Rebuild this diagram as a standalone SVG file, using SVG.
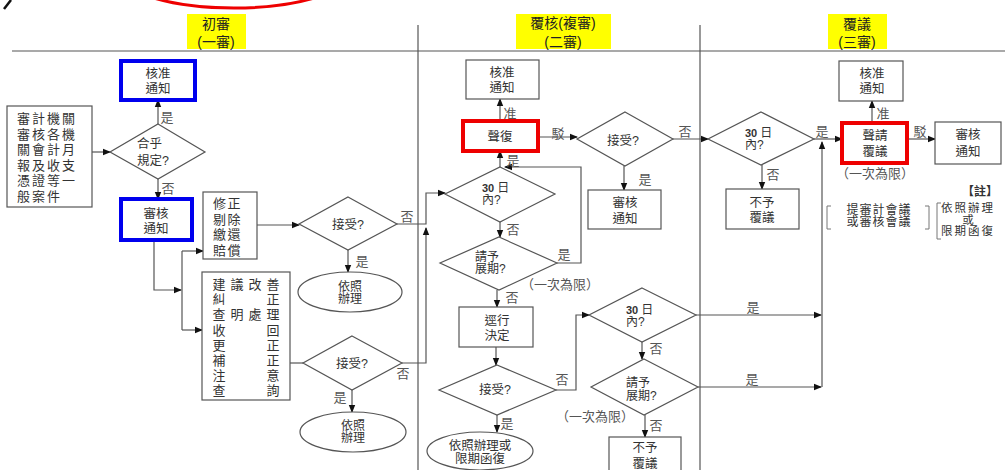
<svg xmlns="http://www.w3.org/2000/svg" width="1005" height="470" viewBox="0 0 1005 470">
<style>
text{font-family:"Liberation Sans","Noto Sans CJK TC","Noto Sans CJK SC",sans-serif;fill:#333;font-size:12.5px}
.m{text-anchor:middle}
.h{font-size:14px;fill:#222}
.lb{fill:#555;font-size:13px}
.sm{font-size:11px}
.ch{font-size:13px;text-anchor:middle}
.box{fill:#fff;stroke:#555;stroke-width:1.2}
.blue{fill:#fff;stroke:#0000ee;stroke-width:4}
.red{fill:#fff;stroke:#ee0000;stroke-width:4}
.c{fill:none;stroke:#555;stroke-width:1.2}
.a{marker-end:url(#ar)}
.div{stroke:#555;stroke-width:1.2;fill:none}
.br{fill:none;stroke:#777;stroke-width:1}
.num{font-weight:bold;font-size:11px}
.ri{font-weight:normal;font-size:12px}
.src{letter-spacing:2px;font-size:13px}
</style>
<defs>
<marker id="ar" markerWidth="8" markerHeight="8" refX="7" refY="4" orient="auto" markerUnits="userSpaceOnUse">
<path d="M0,0.8 L8,4 L0,7.2 Z" fill="#111"/>
</marker>
</defs>
<rect width="1005" height="470" fill="#fff"/>
<g id="decor">
<ellipse cx="234" cy="-28" rx="116" ry="36" fill="none" stroke="#ee0000" stroke-width="3"/>
<path d="M11,0 L4,9" stroke="#111" stroke-width="2.5" fill="none"/>
</g>
<g id="frame">
<line class="div" x1="12" y1="51" x2="1005" y2="51"/>
<line class="div" x1="418" y1="25" x2="418" y2="470"/>
<line class="div" x1="700" y1="25" x2="700" y2="470"/>
</g>
<g id="headers">
<rect x="187" y="14" width="59" height="35" fill="#ffff00"/>
<text class="h m" x="216" y="29">初審</text>
<text class="h m" x="216" y="47">(一審)</text>
<rect x="516" y="14" width="95" height="35" fill="#ffff00"/>
<text class="h m" x="563" y="28">覆核(複審)</text>
<text class="h m" x="563" y="47">(二審)</text>
<rect x="828" y="14" width="59" height="35" fill="#ffff00"/>
<text class="h m" x="857" y="29">覆議</text>
<text class="h m" x="857" y="47">(三審)</text>
</g>
<g id="connectors">
<path class="c a" d="M92,152 H110"/>
<path class="c a" d="M158,124 V100"/>
<path class="c a" d="M158,179 V199"/>
<path class="c a" d="M154,240 V290 H181"/>
<path class="c" d="M182,251 V330"/>
<path class="c a" d="M182,251 H203"/>
<path class="c a" d="M182,330 H202"/>
<path class="c a" d="M257,225 H299"/>
<path class="c a" d="M348,250 V272"/>
<path class="c a" d="M397,224 H426 V193 H445"/>
<path class="c" d="M290,363 H303"/>
<path class="c a" d="M402,363 H426 V228"/>
<path class="c a" d="M352,390 V412"/>
<path class="c a" d="M500,121 V99"/>
<path class="c a" d="M538,137 H577"/>
<path class="c a" d="M624,166 V190"/>
<path class="c a" d="M673,139 H708"/>
<path class="c a" d="M500,167 V151"/>
<path class="c a" d="M500,222 V237"/>
<path class="c a" d="M557,263 H581 V167 H505"/>
<path class="c a" d="M497,290 V307"/>
<path class="c a" d="M496,347 V365"/>
<path class="c a" d="M556,390 H576 V315 H589"/>
<path class="c a" d="M497,415 V432"/>
<path class="c a" d="M696,315 H821"/>
<path class="c a" d="M642,342 V359"/>
<path class="c a" d="M698,387 H821"/>
<path class="c a" d="M645,415 V437"/>
<path class="c a" d="M822,387 V142"/>
<path class="c a" d="M814,139 H842"/>
<path class="c a" d="M762,165 V189"/>
<path class="c a" d="M872,123 V101"/>
<path class="c a" d="M907,139 H935"/>
</g>
<g id="labels">
<text class="lb m" x="167" y="122">是</text>
<text class="lb m" x="168" y="193">否</text>
<text class="lb m" x="407" y="221">否</text>
<text class="lb m" x="362" y="266">是</text>
<text class="lb m" x="403" y="378">否</text>
<text class="lb m" x="340" y="402">是</text>
<text class="lb m" x="510" y="118">准</text>
<text class="lb m" x="558" y="138">駁</text>
<text class="lb m" x="685" y="136">否</text>
<text class="lb m" x="645" y="184">是</text>
<text class="lb m" x="513" y="165">是</text>
<text class="lb m" x="513" y="234">否</text>
<text class="lb m" x="564" y="259">是</text>
<text class="lb" x="521" y="289">（一次為限）</text>
<text class="lb m" x="512" y="302">否</text>
<text class="lb m" x="562" y="384">否</text>
<text class="lb m" x="507" y="428">是</text>
<text class="lb m" x="753" y="312">是</text>
<text class="lb m" x="656" y="353">否</text>
<text class="lb m" x="752" y="384">是</text>
<text class="lb" x="556" y="421">（一次為限）</text>
<text class="lb m" x="656" y="430">否</text>
<text class="lb m" x="883" y="118">准</text>
<text class="lb m" x="920" y="136">駁</text>
<text class="lb m" x="822" y="136">是</text>
<text class="lb m" x="773" y="179">否</text>
<text class="lb" x="836" y="178">（一次為限）</text>
</g>
<g id="n-source">
<rect class="box" x="7" y="106" width="85" height="101"/>
<text class="src" x="17" y="123">審計機關</text>
<text class="src" x="17" y="138.5">審核各機</text>
<text class="src" x="17" y="154">關會計月</text>
<text class="src" x="17" y="169.5">報及收支</text>
<text class="src" x="17" y="185">憑證等一</text>
<text class="src" x="17" y="200.5">般案件</text>
</g>
<g id="n-approve1">
<rect class="blue" x="121" y="61" width="74" height="39"/>
<text class="m" x="158" y="78">核准</text>
<text class="m" x="158" y="93">通知</text>
</g>
<g id="n-comply">
<polygon class="box" points="158,124 205,152 158,179 110,152"/>
<text x="137" y="148">合乎</text>
<text x="137" y="165">規定?</text>
</g>
<g id="n-notice1">
<rect class="blue" x="121" y="199" width="71" height="41"/>
<text class="m" x="156" y="218">審核</text>
<text class="m" x="156" y="233">通知</text>
</g>
<g id="n-correct">
<rect class="box" x="203" y="192" width="54" height="67"/>
<text x="213" y="208" style="letter-spacing:1.5px;font-size:13px">修正</text>
<text x="213" y="223.5" style="letter-spacing:1.5px;font-size:13px">剔除</text>
<text x="213" y="239" style="letter-spacing:1.5px;font-size:13px">繳還</text>
<text x="213" y="254.5" style="letter-spacing:1.5px;font-size:13px">賠償</text>
</g>
<g id="n-accept1">
<polygon class="box" points="348,197 397,224 348,250 299,224"/>
<text class="m" x="348" y="229">接受?</text>
</g>
<g id="n-do1">
<ellipse class="box" cx="350" cy="292" rx="52" ry="20"/>
<text class="m" x="350" y="291" style="font-size:12px">依照</text>
<text class="m" x="350" y="303" style="font-size:12px">辦理</text>
</g>
<g id="n-suggest">
<rect class="box" x="202" y="272" width="88" height="128"/>
<text class="ch" x="219" y="289">建</text><text class="ch" x="237" y="289">議</text><text class="ch" x="255" y="289">改</text><text class="ch" x="273" y="289">善</text>
<text class="ch" x="219" y="304">糾</text><text class="ch" x="273" y="304">正</text>
<text class="ch" x="219" y="319">查</text><text class="ch" x="237" y="319">明</text><text class="ch" x="255" y="319">處</text><text class="ch" x="273" y="319">理</text>
<text class="ch" x="219" y="334.5">收</text><text class="ch" x="273" y="334.5">回</text>
<text class="ch" x="219" y="349.5">更</text><text class="ch" x="273" y="349.5">正</text>
<text class="ch" x="219" y="365">補</text><text class="ch" x="273" y="365">正</text>
<text class="ch" x="219" y="380">注</text><text class="ch" x="273" y="380">意</text>
<text class="ch" x="219" y="395">查</text><text class="ch" x="273" y="395">詢</text>
</g>
<g id="n-accept2">
<polygon class="box" points="352,336 402,363 352,390 303,363"/>
<text class="m" x="352" y="368">接受?</text>
</g>
<g id="n-do2">
<ellipse class="box" cx="353" cy="432" rx="53" ry="20"/>
<text class="m" x="353" y="430" style="font-size:12px">依照</text>
<text class="m" x="353" y="442" style="font-size:12px">辦理</text>
</g>
<g id="n-approve2">
<rect class="box" x="466" y="60" width="73" height="39"/>
<text class="m" x="502" y="77">核准</text>
<text class="m" x="502" y="92">通知</text>
</g>
<g id="n-reply">
<rect class="red" x="463" y="121" width="75" height="30"/>
<text class="m" x="500" y="141">聲復</text>
</g>
<g id="n-accept3">
<polygon class="box" points="625,112 673,139 625,166 577,139"/>
<text class="m" x="623" y="145">接受?</text>
</g>
<g id="n-notice2">
<rect class="box" x="588" y="190" width="73" height="39"/>
<text class="m" x="625" y="207">審核</text>
<text class="m" x="625" y="223">通知</text>
</g>
<g id="n-30a">
<polygon class="box" points="500,167 555,194 500,222 445,194"/>
<text class="num" x="482" y="192">30 <tspan class="ri">日</tspan></text>
<text class="sm" x="482" y="204" style="font-size:12px">內?</text>
</g>
<g id="n-ext1">
<polygon class="box" points="499,237 557,263 499,290 440,263"/>
<text x="475" y="261" style="font-size:12px">請予</text>
<text x="475" y="273" style="font-size:12px">展期?</text>
</g>
<g id="n-decide">
<rect class="box" x="459" y="307" width="74" height="40"/>
<text class="m" x="497" y="325">逕行</text>
<text class="m" x="497" y="340">決定</text>
</g>
<g id="n-accept4">
<polygon class="box" points="497,365 556,390 497,415 439,390"/>
<text class="m" x="495" y="394">接受?</text>
</g>
<g id="n-do3">
<ellipse class="box" cx="480" cy="451" rx="53" ry="19"/>
<text class="m" x="480" y="450" style="font-size:12.5px">依照辦理或</text>
<text class="m" x="480" y="463" style="font-size:12.5px">限期函復</text>
</g>
<g id="n-30b">
<polygon class="box" points="642,288 696,315 642,342 589,315"/>
<text class="num" x="626" y="314">30 <tspan class="ri">日</tspan></text>
<text x="626" y="326" style="font-size:12px">內?</text>
</g>
<g id="n-ext2">
<polygon class="box" points="644,359 698,387 644,415 591,387"/>
<text x="626" y="387" style="font-size:12px">請予</text>
<text x="626" y="400" style="font-size:12px">展期?</text>
</g>
<g id="n-deny1">
<rect class="box" x="609" y="437" width="72" height="40"/>
<text class="m" x="645" y="452">不予</text>
<text class="m" x="645" y="467.5">覆議</text>
</g>
<g id="n-approve3">
<rect class="box" x="839" y="61" width="64" height="40"/>
<text class="m" x="872" y="78">核准</text>
<text class="m" x="872" y="93">通知</text>
</g>
<g id="n-appeal">
<rect class="red" x="842" y="123" width="65" height="40"/>
<text class="m" x="875" y="140">聲請</text>
<text class="m" x="875" y="156">覆議</text>
</g>
<g id="n-notice3">
<rect class="box" x="935" y="122" width="66" height="42"/>
<text class="m" x="968" y="139">審核</text>
<text class="m" x="968" y="156">通知</text>
</g>
<g id="n-30c">
<polygon class="box" points="761,112 814,139 761,165 708,139"/>
<text class="num" x="745" y="137">30 <tspan class="ri">日</tspan></text>
<text x="745" y="149" style="font-size:12px">內?</text>
</g>
<g id="n-deny2">
<rect class="box" x="726" y="189" width="73" height="40"/>
<text class="m" x="762" y="207">不予</text>
<text class="m" x="762" y="222">覆議</text>
</g>
<g id="note">
<text class="m" x="980" y="196" style="font-weight:bold;font-size:12px">【註】</text>
<path class="br" d="M831,206 H827 V229 H831"/>
<text class="m" x="879" y="214" style="letter-spacing:1px;font-size:12px">提審計會議</text>
<text class="m" x="879" y="226" style="letter-spacing:1px;font-size:12px">或審核會議</text>
<path class="br" d="M925,206 H929 V229 H925"/>
<path class="br" d="M941,203 H937 V239 H941"/>
<text class="m" x="968" y="212" style="letter-spacing:2px;font-size:11.5px">依照辦理</text>
<text class="m" x="968" y="223.5" style="font-size:11.5px">或</text>
<text class="m" x="968" y="235" style="letter-spacing:2px;font-size:11.5px">限期函復</text>
</g>
</svg>
